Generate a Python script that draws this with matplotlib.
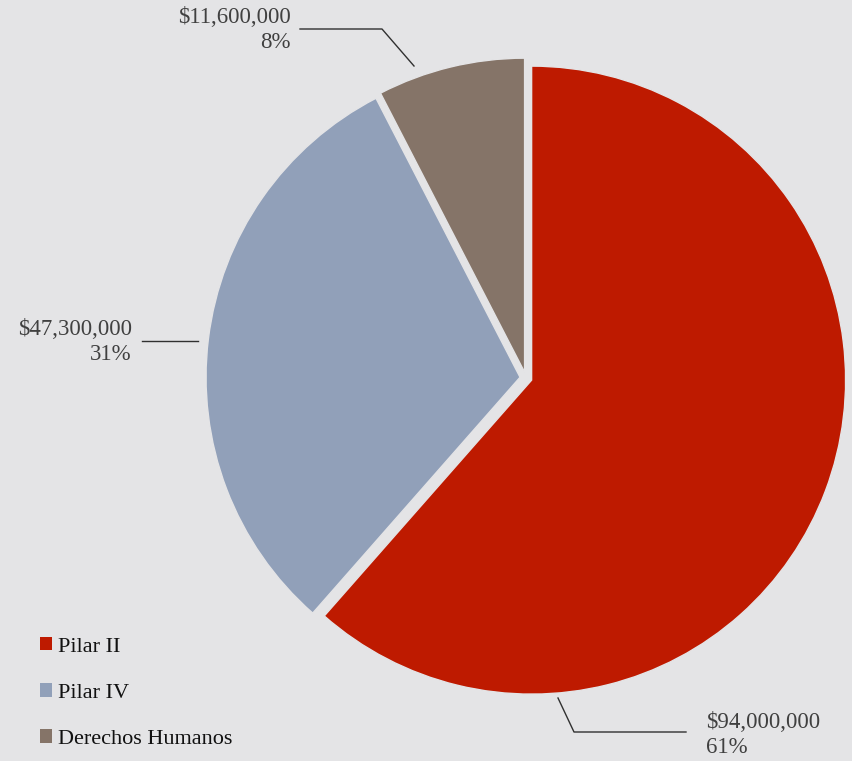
import matplotlib
matplotlib.use("Agg")
import matplotlib.pyplot as plt
from matplotlib.patches import Patch

categories = ["Pilar II", "Pilar IV", "Derechos Humanos"]
values = [94000000, 47300000, 11600000]
colors = ["#BE1A00", "#91A0B9", "#857468"]
bg = "#E4E4E6"

W, H = 853, 761
fig = plt.figure(figsize=(W / 100, H / 100), dpi=100, facecolor=bg)
ax = fig.add_axes([0, 0, 1, 1])

def py(y):
    return H - y

R = 314
ax.pie(values, colors=colors, startangle=90, counterclock=False,
       radius=R, center=(526, py(378)), explode=[6.0] * 3,
       wedgeprops=dict(edgecolor=bg, linewidth=1.0), frame=True)
ax.set_xlim(0, W)
ax.set_ylim(0, H)
ax.set_aspect("equal")
ax.axis("off")

total = sum(values)
labels = [f"${v:,.0f}\n{round(v / total * 100):.0f}%" for v in values]

font = "Liberation Serif"
tc = "#404040"
fs = 16.5

# Pilar II label (bottom right)
ax.plot([558, 574, 686], [py(698), py(732), py(732)], color="#303030", lw=1)
ax.text(706, py(735), labels[0], ha="left", va="center", fontsize=fs,
        family=font, color=tc, linespacing=1.3)
# Pilar IV label (left)
ax.plot([142, 198], [py(341), py(341)], color="#303030", lw=1)
ax.text(132, py(342), labels[1], ha="right", va="center", fontsize=fs,
        family=font, color=tc, linespacing=1.3, multialignment="right")
# Derechos Humanos label (top)
ax.plot([300, 382, 414], [py(29), py(29), py(66)], color="#303030", lw=1)
ax.text(291, py(30), labels[2], ha="right", va="center", fontsize=fs,
        family=font, color=tc, linespacing=1.3, multialignment="right")

handles = [Patch(facecolor=c, edgecolor="none") for c in colors]
leg = ax.legend(handles, categories, loc="upper left",
                bbox_to_anchor=(20 / W, 1 - 617 / H), frameon=False,
                prop=dict(family=font, size=16), handlelength=0.55,
                handleheight=0.55, handletextpad=0.25, labelspacing=1.2)
for t in leg.get_texts():
    t.set_color("#111111")

fig.savefig("out.png", dpi=100, facecolor=bg)
